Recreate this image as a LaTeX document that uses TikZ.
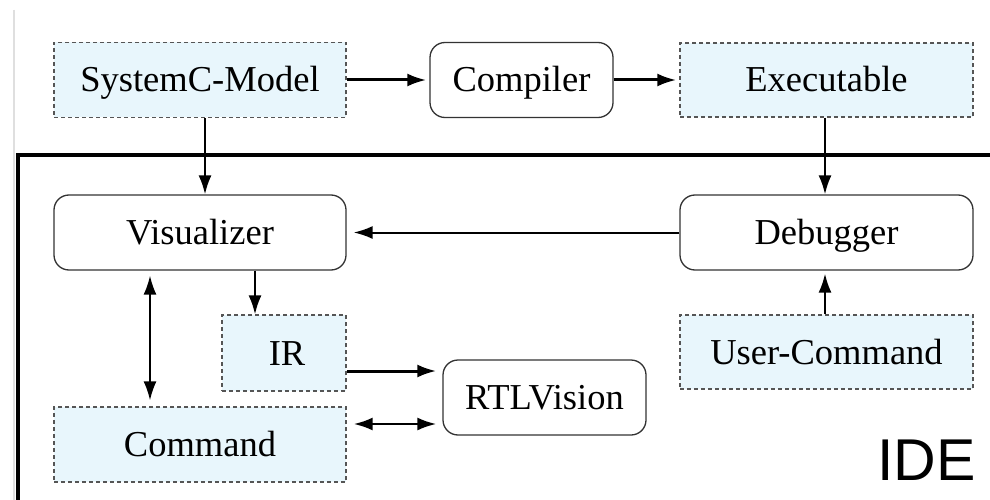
\documentclass[tikz,border=0pt]{standalone}
\usepackage{fontspec}
\setmainfont{Liberation Serif}
\newfontfamily\idefont{Liberation Sans}
\usetikzlibrary{arrows.meta}
\definecolor{boxblue}{HTML}{E8F6FC}
\definecolor{dashgray}{HTML}{555555}
\begin{document}
\begin{tikzpicture}[x=1pt,y=-1pt,
  every node/.style={font=\fontsize{36.5}{40}\selectfont, inner sep=0pt, text height=24pt, text depth=0pt},
  databox/.style={draw=dashgray, fill=boxblue, line width=1.3pt, dash pattern=on 4pt off 3pt},
  toolbox/.style={draw=black!80, line width=1.3pt, rounded corners=15pt, fill=white},
  conn/.style={line width=2pt, -{Latex[length=19pt,width=13pt]}},
  thickconn/.style={line width=3pt, -{Latex[length=19pt,width=13pt]}},
  dconn/.style={line width=1.8pt, {Latex[length=19pt,width=13pt]}-{Latex[length=19pt,width=13pt]}}
]
\useasboundingbox (0,0) rectangle (990,500);
\fill[white] (0,0) rectangle (990,500);
% faint page edge
\draw[gray!25, line width=1.2pt] (14,10) -- (14,500);
% IDE frame
\draw[line width=3.5pt] (990,155) -- (18,155) -- (18,502);

% nodes
\node[databox, minimum width=292pt, minimum height=75pt] (sysc) at (200,80) {SystemC-Model};
\node[toolbox, minimum width=183pt, minimum height=75pt] (comp) at (521.5,80) {Compiler};
\node[databox, minimum width=293pt, minimum height=74pt] (exe) at (826.5,80) {Executable};
\node[toolbox, minimum width=292pt, minimum height=75pt] (vis) at (200,232.5) {Visualizer};
\node[toolbox, minimum width=293pt, minimum height=75pt] (dbg) at (826.5,232.5) {Debugger};
\node[databox, minimum width=124pt, minimum height=76pt] (ir) at (284,353) {\hspace*{6pt}IR};
\node[databox, minimum width=292pt, minimum height=75pt] (cmd) at (200,444.5) {Command};
\node[toolbox, minimum width=203pt, minimum height=75pt] (rtl) at (544.5,397.5) {RTLVision};
\node[databox, minimum width=293pt, minimum height=74pt] (ucmd) at (826.5,352) {User-Command};
\node[font=\idefont\fontsize{59}{60}\selectfont, anchor=base east, text height=, text depth=] (ide) at (976,480) {IDE};

% connectors
\draw[thickconn, shorten >=3pt] (sysc.east) -- (comp.west);
\draw[thickconn, shorten >=3pt] (comp.east) -- (exe.west);
\draw[conn] ([xshift=5pt]sysc.south) -- ([xshift=5pt]vis.north);
\draw[conn] ([xshift=-1.5pt]exe.south) -- ([xshift=-1.5pt]dbg.north);
\draw[conn, shorten >=7pt] (dbg.west) -- (vis.east);
\draw[conn] ([xshift=55pt]vis.south) -- ([xshift=55pt]vis.south |- ir.north);
\draw[dconn, shorten <=5pt, shorten >=6pt] ([xshift=-50pt]vis.south) -- ([xshift=-50pt]cmd.north);
\draw[thickconn, shorten >=6pt] ([yshift=-18pt]ir.east) -- ([yshift=-18pt]ir.east -| rtl.west);
\draw[dconn, line width=2.5pt, shorten <=7pt, shorten >=6pt] ([yshift=20.5pt]cmd.east) -- ([yshift=20.5pt]cmd.east -| rtl.west);
\draw[conn, shorten >=3pt] ([xshift=-1.5pt]ucmd.north) -- ([xshift=-1.5pt]dbg.south);
\end{tikzpicture}
\end{document}
